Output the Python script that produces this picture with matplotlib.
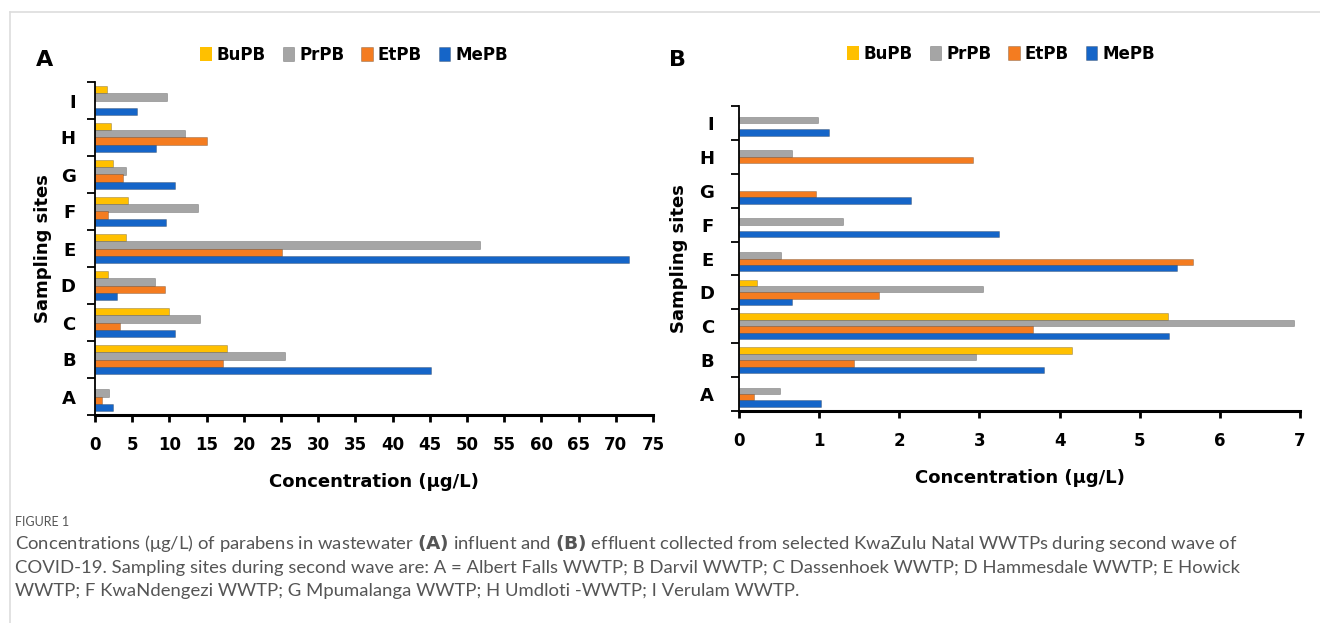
import numpy as np
import matplotlib
matplotlib.use("Agg")
import matplotlib.pyplot as plt
from matplotlib.lines import Line2D

sites = ["A", "B", "C", "D", "E", "F", "G", "H", "I"]
series = ["BuPB", "PrPB", "EtPB", "MePB"]
colors = ["#FFC000", "#A5A5A5", "#F47C20", "#1565C8"]

# panel A - influent (ug/L)
bupb_a = [0.0, 17.7, 10.0, 1.8, 4.1, 4.4, 2.4, 2.1, 1.6]
prpb_a = [1.9, 25.5, 14.1, 8.0, 51.8, 13.9, 4.2, 12.1, 9.7]
etpb_a = [1.0, 17.2, 3.4, 9.4, 25.2, 1.7, 3.8, 15.1, 0.0]
mepb_a = [2.4, 45.2, 10.7, 3.0, 71.8, 9.5, 10.7, 8.2, 5.7]

# panel B - effluent (ug/L)
bupb_b = [0.0, 4.16, 5.35, 0.22, 0.0, 0.0, 0.0, 0.0, 0.0]
prpb_b = [0.51, 2.96, 6.93, 3.05, 0.52, 1.30, 0.0, 0.66, 0.98]
etpb_b = [0.19, 1.44, 3.67, 1.75, 5.66, 0.0, 0.96, 2.92, 0.0]
mepb_b = [1.02, 3.80, 5.36, 0.66, 5.46, 3.25, 2.15, 0.0, 1.12]

W, H = 1320, 623
fig = plt.figure(figsize=(W / 100, H / 100), dpi=100)


def box(l, t, r, b):
    return [l / W, 1 - b / H, (r - l) / W, (b - t) / H]


def panel(ax, data, xmax, step, ypad, ylabpad):
    y = np.arange(len(sites))
    bh = 0.19
    offsets = [1.5, 0.5, -0.5, -1.5]
    for vals, name, col, off in zip(data, series, colors, offsets):
        vals = np.array(vals)
        lw = np.where(vals > 0, 0.6, 0.0)
        ax.barh(y + off * bh, vals, height=bh, color=col, label=name,
                edgecolor="#00000040", linewidth=lw)
    ax.set_xlim(0, xmax)
    ax.set_ylim(-0.5, len(sites) - 0.5)
    ax.set_xticks(np.arange(0, xmax + 0.01, step))
    ax.set_yticks(y)
    ax.set_yticklabels(sites)
    ax.set_yticks(np.arange(-0.5, len(sites), 1), minor=True)
    ax.tick_params(axis="y", which="major", length=0, pad=ypad, labelsize=13)
    ax.tick_params(axis="y", which="minor", length=6, width=1.3, direction="out")
    ax.tick_params(axis="x", length=5, width=2, labelsize=12, pad=10)
    for lab in ax.get_xticklabels() + ax.get_yticklabels():
        lab.set_fontweight("bold")
    for s in ["top", "right"]:
        ax.spines[s].set_visible(False)
    ax.spines["left"].set_linewidth(1.3)
    ax.spines["bottom"].set_linewidth(2.2)
    ax.set_xlabel("Concentration (μg/L)", fontsize=13, fontweight="bold", labelpad=14)
    ax.set_ylabel("Sampling sites", fontsize=13, fontweight="bold", labelpad=ylabpad)
    ax.legend(loc="center", ncol=4, frameon=False,
              handlelength=0.7, handleheight=0.9, handletextpad=0.3, columnspacing=1.0,
              prop={"weight": "bold", "size": 12})


ax1 = fig.add_axes(box(95, 82, 653, 415))
panel(ax1, [bupb_a, prpb_a, etpb_a, mepb_a], 75, 5, 14, 6)
ax1.legend_.set_bbox_to_anchor((354 / W, 1 - 55 / H), transform=fig.transFigure)

ax2 = fig.add_axes(box(739, 106, 1300, 411))
panel(ax2, [bupb_b, prpb_b, etpb_b, mepb_b], 7, 1, 18, 8)
ax2.legend_.set_bbox_to_anchor((1001 / W, 1 - 54 / H), transform=fig.transFigure)

fig.text(36 / W, 1 - 60 / H, "A", fontsize=16, fontweight="bold", va="center")
fig.text(669 / W, 1 - 60 / H, "B", fontsize=16, fontweight="bold", va="center")

# frame lines of the figure box
fig.add_artist(Line2D([10 / W, 1], [1 - 12 / H, 1 - 12 / H], color="#dddddd", lw=1.2))
fig.add_artist(Line2D([10 / W, 10 / W], [0, 1 - 12 / H], color="#dddddd", lw=1.2))

cap = "#555555"
fig.text(15 / W, 1 - 522 / H, "FIGURE 1", fontsize=9, color=cap, va="center",
         family="Lato")
lines = [
    "Concentrations (μg/L) of parabens in wastewater $\\bf{(A)}$ influent and $\\bf{(B)}$ effluent collected from selected KwaZulu Natal WWTPs during second wave of",
    "COVID-19. Sampling sites during second wave are: A = Albert Falls WWTP; B Darvil WWTP; C Dassenhoek WWTP; D Hammesdale WWTP; E Howick",
    "WWTP; F KwaNdengezi WWTP; G Mpumalanga WWTP; H Umdloti -WWTP; I Verulam WWTP.",
]
for i, txt in enumerate(lines):
    fig.text(15 / W, 1 - (544 + 23.5 * i) / H, txt, fontsize=13.3, color=cap,
             va="center", family="Lato")

fig.savefig("out.png", dpi=100)
